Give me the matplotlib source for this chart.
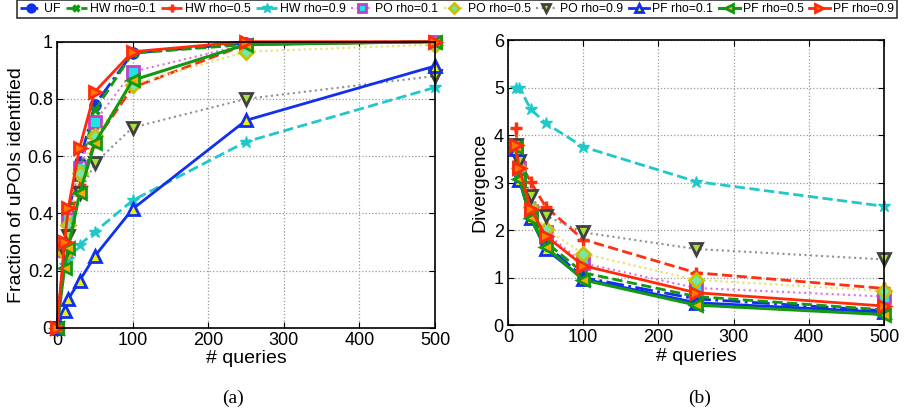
import numpy as np
import matplotlib.pyplot as plt

plt.rcParams['font.family'] = ['Liberation Sans', 'DejaVu Sans']

# number of queries
q_frac = [0, 10, 15, 30, 50, 100, 250, 500]
q_div = [10, 15, 30, 50, 100, 250, 500]

# fraction of uPOIs identified
frac_uf = [0, 0.28, 0.40, 0.58, 0.78, 0.96, 0.995, 1.0]
frac_hw1 = [0, 0.26, 0.38, 0.55, 0.76, 0.96, 0.99, 1.0]
frac_hw5 = [0, 0.25, 0.36, 0.50, 0.65, 0.84, 0.99, 1.0]
frac_hw9 = [0, 0.22, 0.24, 0.29, 0.335, 0.445, 0.65, 0.84]
frac_po1 = [0, 0.27, 0.38, 0.56, 0.72, 0.895, 0.99, 1.0]
frac_po5 = [0, 0.26, 0.36, 0.54, 0.67, 0.85, 0.965, 0.99]
frac_po9 = [0, 0.26, 0.32, 0.47, 0.575, 0.70, 0.80, 0.88]
frac_pf1 = [0, 0.06, 0.10, 0.165, 0.25, 0.415, 0.725, 0.915]
frac_pf5 = [0, 0.21, 0.28, 0.47, 0.645, 0.865, 0.99, 1.0]
frac_pf9 = [0, 0.30, 0.42, 0.63, 0.825, 0.965, 1.0, 1.0]

# divergence
div_uf = [3.75, 3.2, 2.3, 1.7, 1.0, 0.55, 0.30]
div_hw1 = [3.7, 3.2, 2.35, 1.75, 1.1, 0.6, 0.32]
div_hw5 = [4.15, 3.45, 3.02, 2.49, 1.8, 1.1, 0.77]
div_hw9 = [5.0, 5.0, 4.55, 4.25, 3.75, 3.02, 2.5]
div_po1 = [3.75, 3.3, 2.4, 1.95, 1.3, 0.78, 0.6]
div_po5 = [3.8, 3.3, 2.49, 2.03, 1.5, 0.95, 0.72]
div_po9 = [3.8, 3.45, 2.72, 2.3, 1.95, 1.6, 1.38]
div_pf1 = [3.7, 3.05, 2.25, 1.6, 0.97, 0.47, 0.27]
div_pf5 = [3.75, 3.08, 2.25, 1.65, 0.95, 0.42, 0.22]
div_pf9 = [3.8, 3.3, 2.45, 1.88, 1.25, 0.68, 0.40]

labels = ['UF', 'HW rho=0.1', 'HW rho=0.5', 'HW rho=0.9', 'PO rho=0.1',
          'PO rho=0.5', 'PO rho=0.9', 'PF rho=0.1', 'PF rho=0.5', 'PF rho=0.9']

styles = [
    dict(color='#1030f0', ls='-.', marker='o', mfc='#1030f0', mec='#1030f0', lw=2),
    dict(color='#119911', ls='--', marker='x', mfc='#119911', mec='#119911', lw=2, mew=2.5, ms=6),
    dict(color='#ff3010', ls='--', marker='+', mfc='#ff3010', mec='#ff3010', lw=2, mew=2.5),
    dict(color='#20c8c8', ls='--', marker='*', mfc='#20c8c8', mec='#20c8c8', lw=2, ms=9),
    dict(color='#e070e0', ls=':', marker='s', mfc='#20e0e8', mec='#c040c8', lw=1.5, mew=2),
    dict(color='#e8e060', ls=':', marker='D', mfc='#70e8b0', mec='#c8c000', lw=1.5, mew=2, ms=7),
    dict(color='#909090', ls=':', marker='v', mfc='#a8e040', mec='#404040', lw=1.5, mew=2),
    dict(color='#1030f0', ls='-', marker='^', mfc='#f0f000', mec='#1030f0', lw=2, mew=2),
    dict(color='#119911', ls='-', marker='<', mfc='#ffaa00', mec='#119911', lw=2.2, mew=2),
    dict(color='#ff2a0a', ls='-', marker='>', mfc='#ff7a00', mec='#ff2a0a', lw=2, mew=2),
]

frac = [frac_uf, frac_hw1, frac_hw5, frac_hw9, frac_po1,
        frac_po5, frac_po9, frac_pf1, frac_pf5, frac_pf9]
div = [div_uf, div_hw1, div_hw5, div_hw9, div_po1,
       div_po5, div_po9, div_pf1, div_pf5, div_pf9]

fig = plt.figure(figsize=(9.14, 4.17), dpi=100)
ax1 = fig.add_axes([57 / 914, 1 - 327.7 / 417, 378 / 914, 286 / 417])
ax2 = fig.add_axes([508 / 914, 1 - 325 / 417, 376 / 914, 285 / 417])

handles = []
for ys, st, lab in zip(frac, styles, labels):
    kw = dict(st)
    kw.setdefault('ms', 8)
    h, = ax1.plot(q_frac, ys, label=lab, **kw)
    handles.append(h)
for ys, st in zip(div, styles):
    kw = dict(st)
    kw.setdefault('ms', 8)
    ax2.plot(q_div, ys, **kw)

ax1.set_xlim(0, 500)
ax1.set_ylim(0, 1)
ax1.set_yticks(np.arange(0, 1.01, 0.2))
ax1.set_yticklabels(['0', '0.2', '0.4', '0.6', '0.8', '1'])
ax1.set_ylabel('Fraction of uPOIs identified', fontsize=14, labelpad=2)

ax2.set_xlim(0, 500)
ax2.set_ylim(0, 6)
ax2.set_yticks(range(7))
ax2.set_ylabel('Divergence', fontsize=14, labelpad=4)

for ax in (ax1, ax2):
    ax.set_xticks(range(0, 501, 100))
    ax.set_xlabel('# queries', fontsize=14, labelpad=1)
    ax.grid(True, ls=':', color='#999999', lw=0.9)
    ax.tick_params(direction='in', labelsize=13, length=4, top=True, right=True,
                   pad=3)
    for s in ax.spines.values():
        s.set_linewidth(1.2)
    for ln in ax.lines:
        ln.set_clip_on(False)

fig.text(233 / 914, 1 - 398 / 417, '(a)', family='Liberation Serif', fontsize=14,
         ha='center', va='center')
fig.text(700 / 914, 1 - 398 / 417, '(b)', family='Liberation Serif', fontsize=14,
         ha='center', va='center')

leg = fig.legend(handles=handles, loc='upper center', bbox_to_anchor=(0.5, 1.0),
                 ncol=10, fontsize=8.8, frameon=True, fancybox=False,
                 handlelength=1.7, handletextpad=0.25, columnspacing=0.45,
                 borderpad=0.25, borderaxespad=0, markerscale=0.8)
leg.get_frame().set_edgecolor('black')
leg.get_frame().set_linewidth(1.2)

fig.savefig('out.png', dpi=100)
